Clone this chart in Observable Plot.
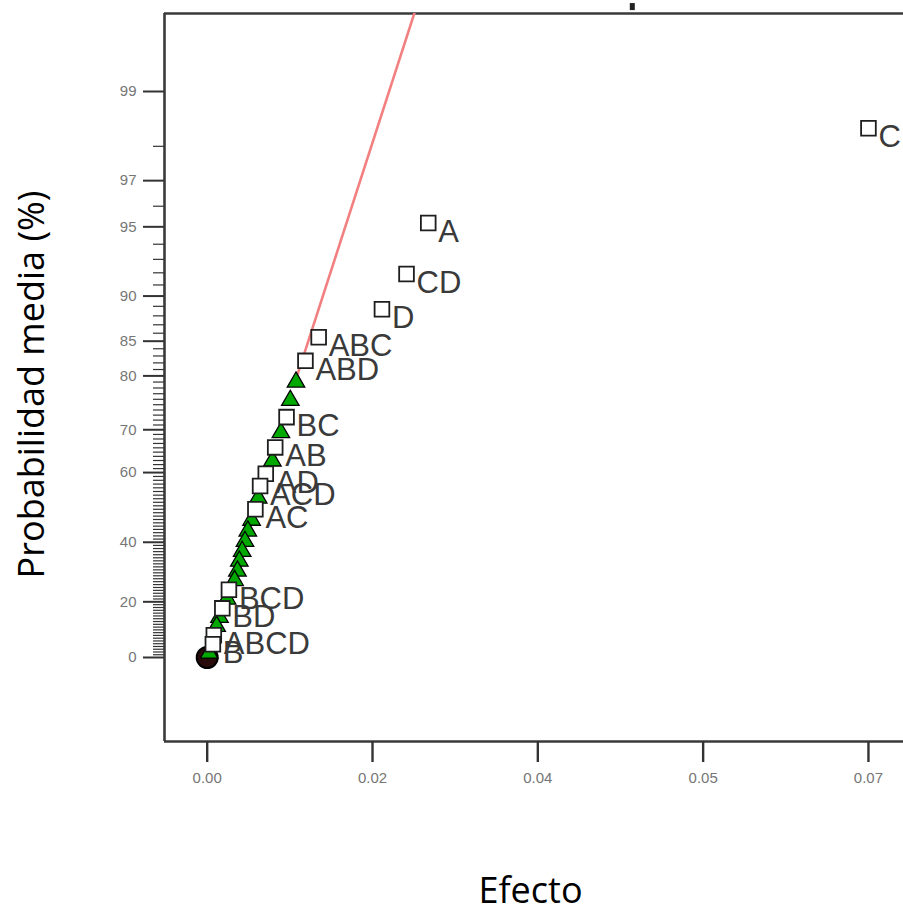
<!DOCTYPE html>
<html>
<head>
<meta charset="utf-8">
<script src="https://cdn.jsdelivr.net/npm/d3@7"></script>
<script src="https://cdn.jsdelivr.net/npm/@observablehq/plot@0.6"></script>
<style>
  html, body { margin: 0; padding: 0; background: #fff; }
  #chart svg { display: block; }
</style>
</head>
<body>
<div id="chart"></div>
<script>
// ---- Data (half-normal probability plot) ----
const effectNames  = ["C", "A", "CD", "D", "ABC", "ABD", "BC", "AB", "AD", "ACD", "AC", "BCD", "BD", "ABCD", "B"];
const effectValues = [0.0700, 0.0234, 0.0211, 0.0185, 0.0118, 0.0104, 0.0084, 0.0072, 0.0062, 0.0056, 0.0051, 0.0023, 0.0016, 0.0007, 0.0006];
const effectProbs  = [98.4, 95.2, 91.9, 88.7, 85.5, 82.3, 72.6, 66.1, 59.7, 56.5, 50.0, 24.2, 17.7, 8.1, 4.8];

const errorValues = [0.0094, 0.0088, 0.0078, 0.0069, 0.0054, 0.0047, 0.0043, 0.0040, 0.0037, 0.0034, 0.0032, 0.0029, 0.0021, 0.0013, 0.0010, 0.0002];
const errorProbs  = [79.0, 75.8, 69.4, 62.9, 53.2, 46.8, 43.5, 40.3, 37.1, 33.9, 30.6, 27.4, 21.0, 14.5, 11.3, 1.6];

const lineValues = [0.0093, 0.0222];
const lineProbs  = [79.0, 99.7];

const originValues = [0];
const originProbs  = [0];

const topMarkValues = [0.0450];

const yMajorTicks = [0, 20, 40, 60, 70, 80, 85, 90, 95, 97, 99];
const yMinorTicks = d3.range(1, 99).filter(p => !yMajorTicks.includes(p));
const xTicks      = [0, 0.0175, 0.035, 0.0525, 0.07];
const xTickLabels = ["0.00", "0.02", "0.04", "0.05", "0.07"];

// ---- half-normal probability scale (inverse normal CDF, Acklam) ----
function probit(p) {
  const a = [-3.969683028665376e+01, 2.209460984245205e+02, -2.759285104469687e+02, 1.383577518672690e+02, -3.066479806614716e+01, 2.506628277459239e+00];
  const b = [-5.447609879822406e+01, 1.615858368580409e+02, -1.556989798598866e+02, 6.680131188771972e+01, -1.328068155288572e+01];
  const c = [-7.784894002430293e-03, -3.223964580411365e-01, -2.400758277161838e+00, -2.549732539343734e+00, 4.374664141464968e+00, 2.938163982698783e+00];
  const d = [7.784695709041462e-03, 3.224671290700398e-01, 2.445134137142996e+00, 3.754408661907416e+00];
  const plow = 0.02425, phigh = 1 - plow;
  let q, r;
  if (p < plow) {
    q = Math.sqrt(-2 * Math.log(p));
    return (((((c[0]*q+c[1])*q+c[2])*q+c[3])*q+c[4])*q+c[5]) / ((((d[0]*q+d[1])*q+d[2])*q+d[3])*q+1);
  } else if (p <= phigh) {
    q = p - 0.5; r = q * q;
    return (((((a[0]*r+a[1])*r+a[2])*r+a[3])*r+a[4])*r+a[5])*q / (((((b[0]*r+b[1])*r+b[2])*r+b[3])*r+b[4])*r+1);
  } else {
    q = Math.sqrt(-2 * Math.log(1 - p));
    return -(((((c[0]*q+c[1])*q+c[2])*q+c[3])*q+c[4])*q+c[5]) / ((((d[0]*q+d[1])*q+d[2])*q+d[3])*q+1);
  }
}
const halfZ = pct => probit(0.5 + pct / 200);

const effects = effectNames.map((name, i) => ({name, x: effectValues[i], z: halfZ(effectProbs[i])}));
const errors  = errorValues.map((v, i) => ({x: v, z: halfZ(errorProbs[i])}));
const fitLine = lineValues.map((v, i) => ({x: v, z: halfZ(lineProbs[i])}));
const origin  = originValues.map((v, i) => ({x: v, z: halfZ(originProbs[i])}));

const zLabel = new Map(yMajorTicks.map(p => [halfZ(p), String(p)]));

const X0 = -0.00452, X1 = 0.07371;
const Z0 = -0.3823,  Z1 = 2.9308;
const frameColor = "#3a3a3a";
const tickFont = "'Liberation Sans', Arial, sans-serif";

const chart = Plot.plot({
  width: 903,
  height: 911,
  marginLeft: 164,
  marginRight: 0,
  marginTop: 13,
  marginBottom: 170,
  x: {domain: [X0, X1]},
  y: {domain: [Z0, Z1]},
  style: {background: "#fff", fontFamily: tickFont},
  marks: [
    // frame (top, bottom, left)
    Plot.ruleY([Z0, Z1], {stroke: frameColor, strokeWidth: 2.6}),
    Plot.ruleX([X0], {stroke: frameColor, strokeWidth: 2.6}),
    // y axis ticks
    Plot.axisY({ticks: yMinorTicks.map(halfZ), tickSize: 11, tickFormat: () => "", color: "#333", strokeWidth: 1.2, label: null}),
    Plot.axisY({ticks: yMajorTicks.map(halfZ), tickSize: 21, tickFormat: () => "", color: "#333", strokeWidth: 2, label: null}),
    Plot.axisY({ticks: yMajorTicks.map(halfZ), tickSize: 0, tickPadding: 28, tickFormat: z => zLabel.get(z) ?? "", color: "#767676", fontSize: 15, label: null}),
    // x axis ticks
    Plot.axisX({ticks: xTicks, tickSize: 21, tickFormat: () => "", color: "#333", strokeWidth: 2.4, label: null}),
    Plot.axisX({ticks: xTicks, tickSize: 0, tickPadding: 31, tickFormat: d => xTickLabels[xTicks.indexOf(d)], color: "#767676", fontSize: 15, label: null}),
    // small mark above the frame
    Plot.ruleX(topMarkValues, {y1: 2.944, y2: 2.976, stroke: "#222", strokeWidth: 5}),
    // fitted line
    Plot.line(fitLine, {x: "x", y: "z", stroke: "#f28080", strokeWidth: 2.6, clip: true}),
    // origin marker
    Plot.dot(origin, {x: "x", y: "z", r: 10.5, fill: "#2a0b0b", stroke: "#000", strokeWidth: 2}),
    // error estimates
    Plot.dot(errors, {x: "x", y: "z", symbol: "triangle", r: 6.5, fill: "#00a800", stroke: "#000", strokeWidth: 1.3}),
    // effects
    Plot.dot(effects, {x: "x", y: "z", symbol: "square", r: 8.3, fill: "#fff", stroke: "#1e1e1e", strokeWidth: 1.8}),
    Plot.text(effects, {x: "x", y: "z", text: "name", dx: 10, dy: 9, textAnchor: "start", fontSize: 31, fill: "#3a3a3a", fontFamily: "'Liberation Sans', Arial, sans-serif"}),
    // axis titles
    Plot.text(["Probabilidad media (%)"], {text: d => d, frameAnchor: "left", textAnchor: "middle", lineAnchor: "middle", rotate: -90, dx: -132.5, dy: 7, fontSize: 36, fill: "#000", fontFamily: "'Open Sans', sans-serif"}),
    Plot.text(["Efecto"], {text: d => d, frameAnchor: "bottom", textAnchor: "middle", lineAnchor: "middle", dx: -3.5, dy: 149.5, fontSize: 36, fill: "#000", fontFamily: "'Open Sans', sans-serif"})
  ]
});

document.getElementById("chart").appendChild(chart);
</script>
</body>
</html>
